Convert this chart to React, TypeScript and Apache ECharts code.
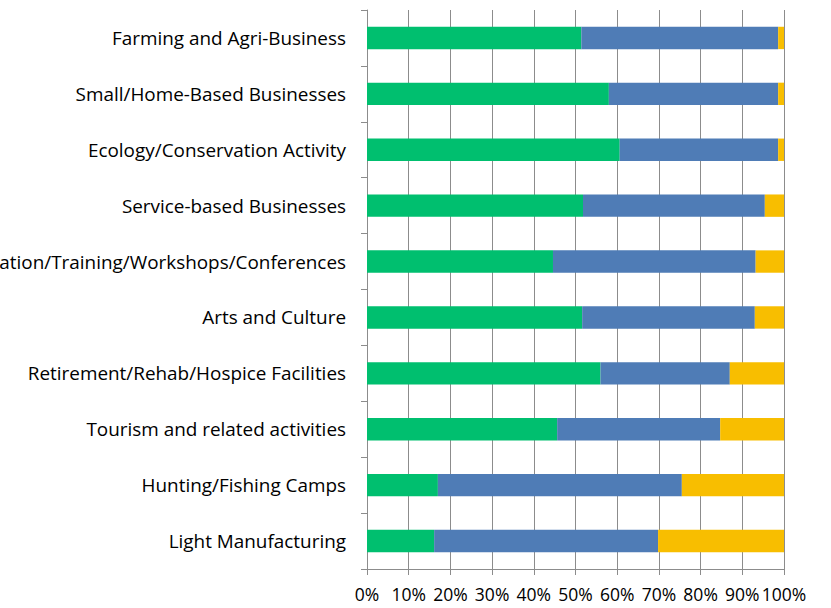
import React, { useEffect, useRef } from "react";
import * as echarts from "echarts";

const categories = [
  "Farming and Agri-Business",
  "Small/Home-Based Businesses",
  "Ecology/Conservation Activity",
  "Service-based Businesses",
  "Education/Training/Workshops/Conferences",
  "Arts and Culture",
  "Retirement/Rehab/Hospice Facilities",
  "Tourism and related activities",
  "Hunting/Fishing Camps",
  "Light Manufacturing",
];
const greenValues = [51.4, 58.0, 60.6, 51.8, 44.6, 51.6, 56.0, 45.6, 17.0, 16.1];
const blueValues = [47.2, 40.6, 38.0, 43.6, 48.6, 41.4, 31.0, 39.1, 58.5, 53.7];
const yellowValues = [1.4, 1.4, 1.4, 4.6, 6.8, 7.0, 13.0, 15.3, 24.5, 30.2];

const FONT = "'Open Sans', sans-serif";

export default function App() {
  const ref = useRef<HTMLDivElement>(null);
  useEffect(() => {
    document.body.style.margin = "0";
    const chart = echarts.init(ref.current!, null, { renderer: "svg" });
    const mk = (name: string, data: number[], color: string) => ({
      name,
      type: "bar",
      stack: "total",
      barWidth: "40%",
      data,
      itemStyle: { color },
    });
    chart.setOption({
      animation: false,
      grid: {
        left: 367,
        right: 47,
        top: 10,
        bottom: 39,
        containLabel: false,
        outerBoundsMode: "none",
      },
      xAxis: {
        type: "value",
        min: 0,
        max: 100,
        interval: 10,
        axisLine: { show: true, lineStyle: { color: "#8c8c8c", width: 1 } },
        axisTick: { show: true, length: 6, lineStyle: { color: "#8c8c8c" } },
        splitLine: { show: true, lineStyle: { color: "#8c8c8c", width: 1 } },
        axisLabel: {
          formatter: "{value}%",
          color: "#000",
          fontSize: 17.5,
          fontFamily: FONT,
          margin: 16,
          hideOverlap: false,
          showMinLabel: true,
          showMaxLabel: true,
        },
      },
      yAxis: {
        type: "category",
        inverse: true,
        data: categories,
        axisLine: { show: true, lineStyle: { color: "#8c8c8c", width: 1 } },
        axisTick: { show: true, length: 6, lineStyle: { color: "#8c8c8c" } },
        axisLabel: {
          color: "#000",
          fontSize: 18.9,
          fontFamily: FONT,
          margin: 21,
          interval: 0,
          hideOverlap: false,
        },
      },
      series: [
        mk("Green", greenValues, "#00BF6F"),
        mk("Blue", blueValues, "#4F7CB6"),
        mk("Yellow", yellowValues, "#F8BE00"),
      ],
    });
    return () => chart.dispose();
  }, []);
  return <div ref={ref} style={{ width: 831, height: 608 }} />;
}
